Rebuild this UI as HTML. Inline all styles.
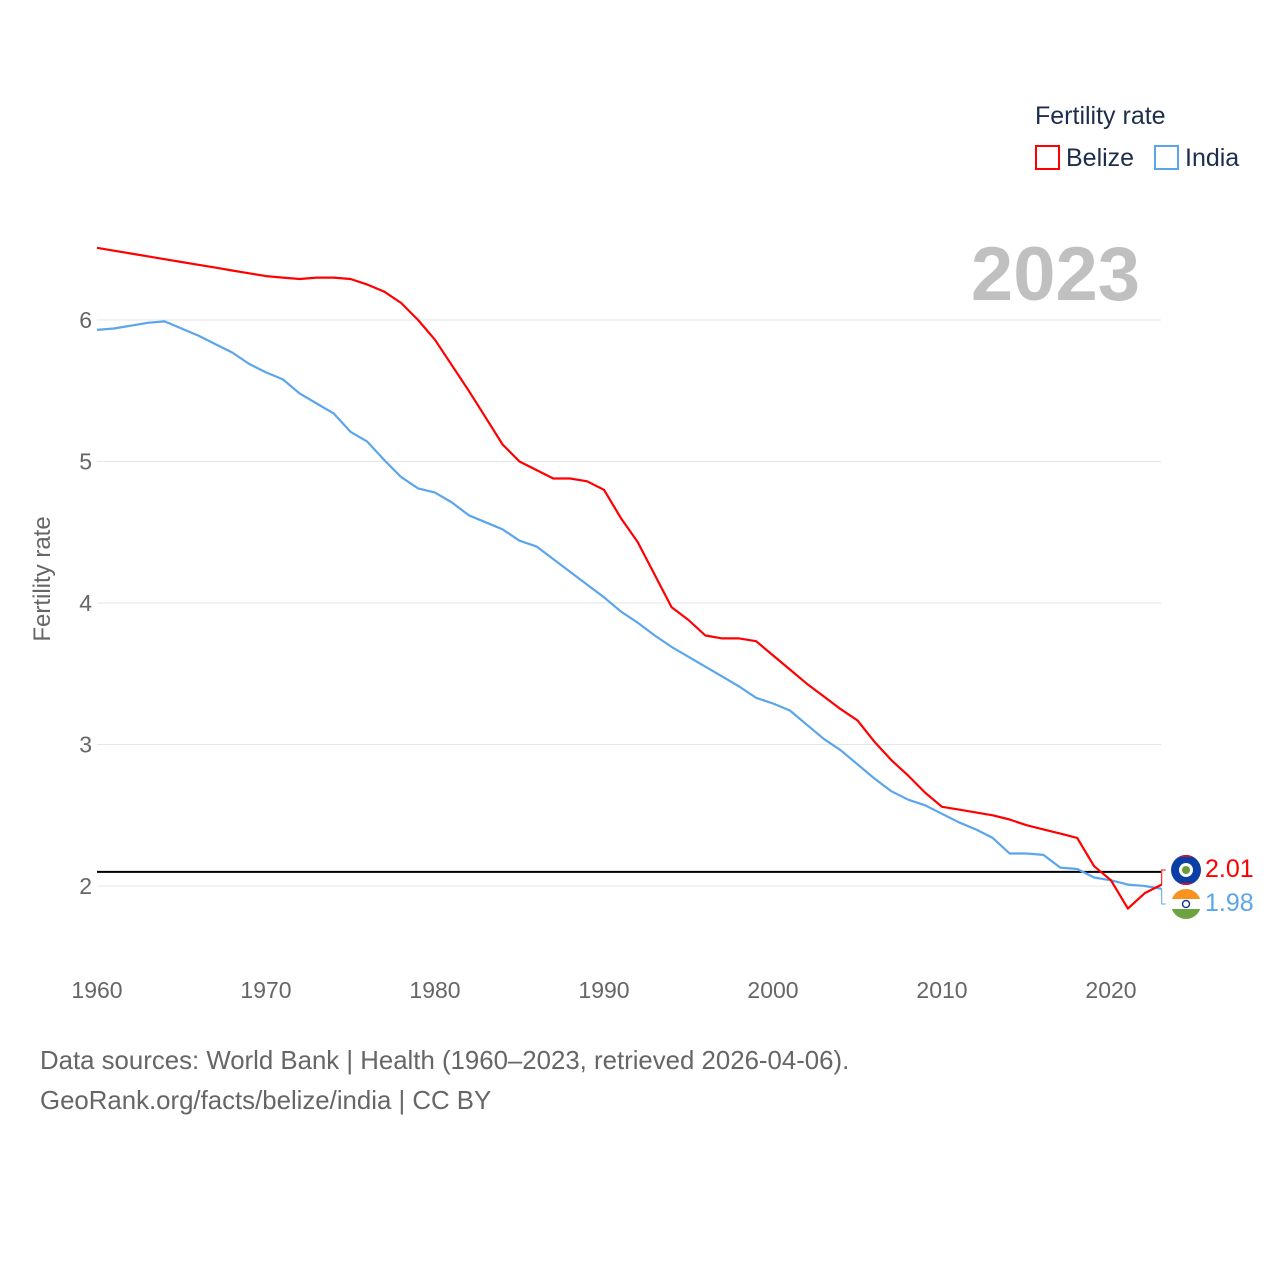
<!DOCTYPE html>
<html><head><meta charset="utf-8">
<style>
body{margin:0;background:#fff;}
svg text{font-family:"Liberation Sans",sans-serif;}
</style></head>
<body>
<svg id="chart" width="1280" height="1280" viewBox="0 0 1280 1280" xmlns="http://www.w3.org/2000/svg">
<defs>
<clipPath id="cpb"><circle cx="1186" cy="870" r="15"/></clipPath>
<clipPath id="cp"><circle cx="1186" cy="904" r="15"/></clipPath>
</defs>
<rect width="1280" height="1280" fill="#fff"/>
<g id="grid"></g>
<g id="xticks"></g>
<text x="0" y="0" transform="translate(50,579) rotate(-90)" text-anchor="middle" font-size="24" fill="#666">Fertility rate</text>
<text x="1140" y="300" text-anchor="end" font-size="76" font-weight="bold" fill="#c0c0c0">2023</text>
<g>
<text x="1035" y="124" font-size="25" fill="#1d2d4d">Fertility rate</text>
<g><rect x="1036" y="146" width="23" height="23" fill="none" stroke="#f00" stroke-width="2"/><text x="1066" y="166" font-size="25" fill="#1d2d4d">Belize</text></g>
<g><rect x="1155" y="146" width="23" height="23" fill="none" stroke="#5aa5ec" stroke-width="2"/><text x="1185" y="166" font-size="25" fill="#1d2d4d">India</text></g>
</g>
<g id="series"></g>
<g id="endlabels"></g>
<text x="40" y="1069" font-size="25.8" fill="#666">Data sources: World Bank | Health (1960–2023, retrieved 2026-04-06).</text>
<text x="40" y="1109" font-size="25.8" fill="#666">GeoRank.org/facts/belize/india | CC BY</text>
</svg>
<script>
const years = Array.from({length:64},(_,i)=>1960+i);
const belize = [6.51,6.49,6.47,6.45,6.43,6.41,6.39,6.37,6.35,6.33,6.31,6.30,6.29,6.30,6.30,6.29,6.25,6.20,6.12,6.00,5.86,5.68,5.50,5.31,5.12,5.00,4.94,4.88,4.88,4.86,4.80,4.60,4.43,4.20,3.97,3.88,3.77,3.75,3.75,3.73,3.63,3.53,3.43,3.34,3.25,3.17,3.02,2.89,2.78,2.66,2.56,2.54,2.52,2.50,2.47,2.43,2.40,2.37,2.34,2.14,2.04,1.84,1.95,2.01];
const india = [5.93,5.94,5.96,5.98,5.99,5.94,5.89,5.83,5.77,5.69,5.63,5.58,5.48,5.41,5.34,5.21,5.14,5.01,4.89,4.81,4.78,4.71,4.62,4.57,4.52,4.44,4.40,4.31,4.22,4.13,4.04,3.94,3.86,3.77,3.69,3.62,3.55,3.48,3.41,3.33,3.29,3.24,3.14,3.04,2.96,2.86,2.76,2.67,2.61,2.57,2.51,2.45,2.40,2.34,2.23,2.23,2.22,2.13,2.12,2.06,2.04,2.01,2.00,1.98];
const yTicks = [2,3,4,5,6];
const xTicks = [1960,1970,1980,1990,2000,2010,2020];
const replacement = 2.1;
const NS="http://www.w3.org/2000/svg";
const xs = y => 97 + (y-1960)*16.9;
const ys = v => 886 - (v-2)*141.5;
function mk(tag, attrs, parent){const e=document.createElementNS(NS,tag);for(const k in attrs)e.setAttribute(k,attrs[k]);parent.appendChild(e);return e;}
const grid=document.getElementById('grid');
yTicks.forEach(t=>{
  const l=mk('line',{x1:97,x2:1161,y1:ys(t),y2:ys(t),stroke:'#e6e6e6','stroke-width':1},grid);
  
  
  const tx=mk('text',{x:92,y:ys(t)+8,'text-anchor':'end','font-size':23,fill:'#666'},grid);
  tx.textContent=t;
  
  
});
const xt=document.getElementById('xticks');
xTicks.forEach(t=>{
  const tx=mk('text',{x:xs(t),y:998,'text-anchor':'middle','font-size':23,fill:'#666'},xt);
  tx.textContent=t;
  
  
});
const s=document.getElementById('series');
const rl=mk('line',{x1:97,x2:1161,y1:ys(replacement),y2:ys(replacement),stroke:'#000','stroke-width':2},s);


[[india,'#5aa5ec','india-line'],[belize,'#f00','belize-line']].forEach(([d,c,n])=>{
  const p=mk('path',{d:d.map((v,i)=>(i?'L':'M')+xs(years[i]).toFixed(1)+','+ys(v).toFixed(1)).join(''),fill:'none',stroke:c,'stroke-width':2.2,'stroke-linejoin':'round'},s);
  
  
});
const el=document.getElementById('endlabels');
const xe=xs(2023);
const bv=belize[63], iv=india[63];
mk('path',{d:`M${xe},${ys(bv)} L${xe},870 L${xe+4},870`,fill:'none',stroke:'#f00','stroke-width':1},el);
mk('path',{d:`M${xe},${ys(iv)} L${xe},904 L${xe+4},904`,fill:'none',stroke:'#5aa5ec','stroke-width':1},el);
const f1=mk('g',{'clip-path':'url(#cpb)'},el);


mk('rect',{x:1170,y:854,width:32,height:32,fill:'#0a3fa6'},f1);
mk('rect',{x:1170,y:854,width:32,height:3,fill:'#d21034'},f1);
mk('rect',{x:1170,y:883,width:32,height:3,fill:'#d21034'},f1);
mk('circle',{cx:1186,cy:870,r:7,fill:'#fff'},f1);
mk('circle',{cx:1186,cy:870,r:4,fill:'#6a9a3a'},f1);
const f2=mk('g',{'clip-path':'url(#cp)'},el);


mk('rect',{x:1170,y:888,width:32,height:11,fill:'#f7931e'},f2);
mk('rect',{x:1170,y:899,width:32,height:10,fill:'#fff'},f2);
mk('rect',{x:1170,y:909,width:32,height:11,fill:'#6ea342'},f2);
mk('circle',{cx:1186,cy:904,r:3.5,fill:'none',stroke:'#1a3a8a','stroke-width':1.5},f2);
const t1=mk('text',{x:1205,y:877,'font-size':25,fill:'#f00'},el);
t1.textContent=bv.toFixed(2);


const t2=mk('text',{x:1205,y:911,'font-size':25,fill:'#5aa5ec'},el);
t2.textContent=iv.toFixed(2);


</script>
</body></html>
